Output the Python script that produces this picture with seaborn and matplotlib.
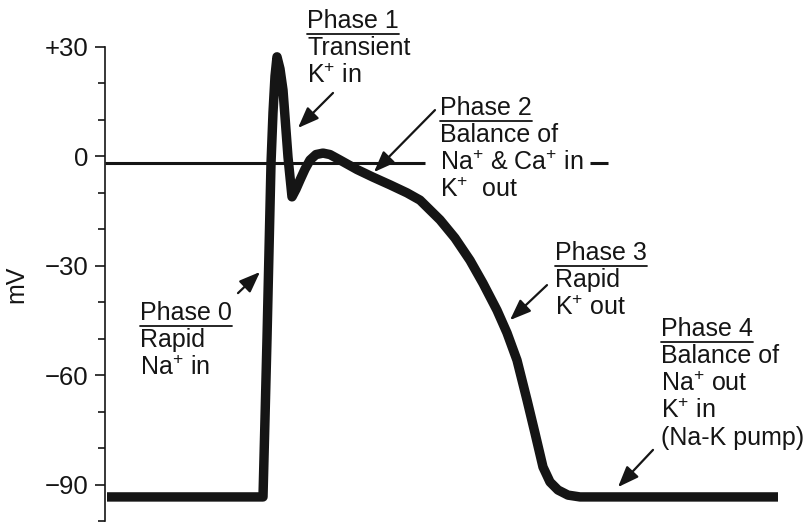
import numpy as np
import pandas as pd
import matplotlib
matplotlib.use("Agg")
import matplotlib.pyplot as plt
import seaborn as sns
from matplotlib.lines import Line2D

# cardiac action potential (time in ms, potential in mV)
time_ms = [-156, 0, 2, 4, 6, 8, 10, 12, 14, 17, 20, 25, 29, 33, 37, 42, 47, 53, 60, 67, 77,
           94, 110, 127, 144, 157, 167, 177, 192, 207, 220, 234, 244, 254, 264, 272, 280,
           287, 295, 305, 317, 515]
potential_mv = [-93.4, -93.4, -72.0, -50.0, -26.0, -2.0, 12.0, 22.0, 27.3, 24.0, 18.2, -0.2, -11.1,
                -9.0, -6.5, -3.5, -1.0, 0.5, 0.9, 0.5, -1.0,
                -3.6, -5.7, -7.8, -10.0, -12.0, -14.7, -17.4, -22.4, -28.5, -34.8, -42.2, -48.4,
                -55.9, -66.8, -75.9, -85.2, -89.3, -91.5, -92.9, -93.4, -93.4]

ytick_vals = [-90, -60, -30, 0, 30]
ytick_labels = ["\u221290", "\u221260", "\u221230", "0", "+30"]
yminor_vals = [-100, -80, -70, -50, -40, -20, -10, 10, 20]

zero_level = -1.7
zero_starts = [-158, 327]
zero_ends = [162, 345]

# phase labels: header, body lines, text position (pixels), arrow tail/head (data)
phase_titles = ["Phase 0", "Phase 1", "Phase 2", "Phase 3", "Phase 4"]
phase_bodies = [
    ["Rapid", "Na$^{+}$ in"],
    ["Transient", "K$^{+}$ in"],
    ["Balance of", "Na$^{+}$ & Ca$^{+}$ in", "K$^{+}$  out"],
    ["Rapid", "K$^{+}$ out"],
    ["Balance of", "Na$^{+}$ out", "K$^{+}$ in", "(Na-K pump)"],
]
phase_text_x = [140, 307, 440, 555, 661]
phase_text_y = [320, 28, 115, 260, 336]
arrow_tails = [(-25, -37.5), (70, 17.4), (172, 12.7), (284, -35.3), (390, -80.5)]
arrow_heads = [(-3, -31.7), (35, 7.8), (111, -4.3), (247, -44.9), (355, -90.7)]

sns.set_style("ticks")
plt.rcParams['font.family'] = ['Liberation Sans', 'DejaVu Sans']
plt.rcParams['mathtext.fontset'] = 'custom'
plt.rcParams['mathtext.rm'] = 'Liberation Sans'
plt.rcParams['mathtext.it'] = 'Liberation Sans:italic'
plt.rcParams['mathtext.bf'] = 'Liberation Sans:bold'

W, H = 808, 529
ink = '#151515'
fs = 18
step = 27.3

fig = plt.figure(figsize=(W / 100, H / 100), dpi=100)
ax = fig.add_axes([105 / W, (H - 521) / H, 695 / W, 474 / H])

df = pd.DataFrame({'time': time_ms, 'mV': potential_mv})
sns.lineplot(data=df, x='time', y='mV', ax=ax, color=ink, lw=6.8,
             estimator=None, sort=False, solid_capstyle='butt',
             solid_joinstyle='round', clip_on=False)

ax.hlines([zero_level] * len(zero_starts), zero_starts, zero_ends, color=ink, lw=2.2)

ax.set_xlim(-158, 537)
ax.set_ylim(-100, 30)
ax.set_yticks(ytick_vals)
ax.set_yticklabels(ytick_labels, fontsize=18.5, color=ink)
ax.set_yticks(yminor_vals, minor=True)
ax.tick_params(axis='y', which='major', length=7, width=1.2, pad=5, color=ink)
ax.tick_params(axis='y', which='minor', length=5, width=1.2, color=ink)
ax.set_xticks([])
ax.set_xlabel("")
ax.set_ylabel("mV", fontsize=fs, color=ink, va='center')
ax.yaxis.set_label_coords((16 - 105) / 695, 0.5)
sns.despine(ax=ax, bottom=True)
ax.spines['left'].set_linewidth(1.2)
ax.spines['left'].set_color(ink)

headers = []
for title, body, tx, ty in zip(phase_titles, phase_bodies, phase_text_x, phase_text_y):
    h = fig.text(tx / W, 1 - ty / H, title, fontsize=fs, color=ink, va='baseline')
    headers.append((h, tx, ty))
    for i, line in enumerate(body):
        fig.text(tx / W, 1 - (ty + step * (i + 1)) / H, line, fontsize=fs,
                 color=ink, va='baseline')

for tail, head in zip(arrow_tails, arrow_heads):
    ax.annotate('', xy=head, xytext=tail,
                arrowprops=dict(arrowstyle='-|>,head_length=0.85,head_width=0.33',
                                mutation_scale=15, lw=1.6, color=ink,
                                shrinkA=0, shrinkB=0))

# underline the phase headers
fig.canvas.draw()
renderer = fig.canvas.get_renderer()
for h, tx, ty in headers:
    bb = h.get_window_extent(renderer)
    x0 = bb.x0 / W
    x1 = bb.x1 / W
    yy = 1 - (ty + 5.5) / H
    fig.add_artist(Line2D([x0, x1], [yy, yy], transform=fig.transFigure,
                          color=ink, lw=1.3))

fig.savefig("out.png", dpi=100)
